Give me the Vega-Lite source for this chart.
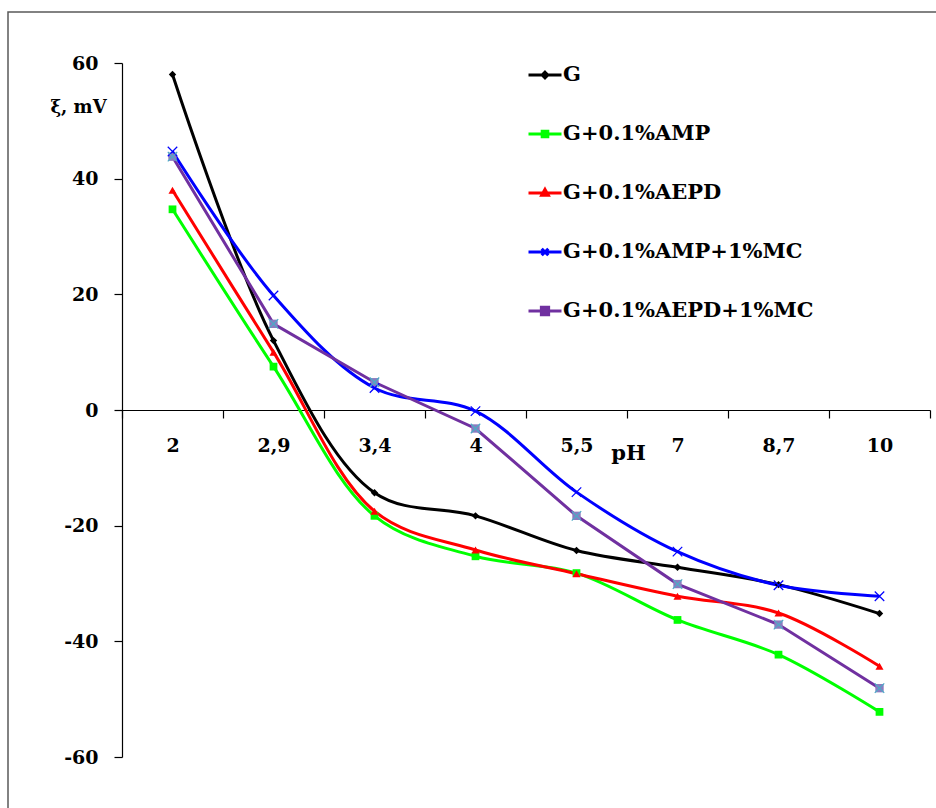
{
  "$schema": "https://vega.github.io/schema/vega-lite/v6.json",
  "autosize": {"type": "none"},
  "padding": {"left": 8, "top": 12, "right": 0, "bottom": 0},
  "width": 930,
  "height": 800,
  "background": "white",
  "config": {
    "view": {"stroke": "#595959", "strokeWidth": 1.5},
    "font": "DejaVu Serif",
    "axis": {
      "labelFont": "DejaVu Serif", "labelFontWeight": "bold", "labelFontSize": 19, "labelColor": "#000",
      "titleFont": "DejaVu Serif", "titleFontWeight": "bold", "titleColor": "#000",
      "domainColor": "#000", "tickColor": "#000", "domainWidth": 1.2, "tickWidth": 1.2, "tickSize": 8, "grid": false
    }
  },
  "data": {"values": [
    {"series": "G", "pH": "2", "v": 58.0},
    {"series": "G", "pH": "2,9", "v": 12.0},
    {"series": "G", "pH": "3,4", "v": -14.3},
    {"series": "G", "pH": "4", "v": -18.3},
    {"series": "G", "pH": "5,5", "v": -24.3},
    {"series": "G", "pH": "7", "v": -27.2},
    {"series": "G", "pH": "8,7", "v": -30.2},
    {"series": "G", "pH": "10", "v": -35.2},
    {"series": "G+0.1%AMP", "pH": "2", "v": 34.7},
    {"series": "G+0.1%AMP", "pH": "2,9", "v": 7.5},
    {"series": "G+0.1%AMP", "pH": "3,4", "v": -18.3},
    {"series": "G+0.1%AMP", "pH": "4", "v": -25.3},
    {"series": "G+0.1%AMP", "pH": "5,5", "v": -28.2},
    {"series": "G+0.1%AMP", "pH": "7", "v": -36.3},
    {"series": "G+0.1%AMP", "pH": "8,7", "v": -42.3},
    {"series": "G+0.1%AMP", "pH": "10", "v": -52.2},
    {"series": "G+0.1%AEPD", "pH": "2", "v": 38.0},
    {"series": "G+0.1%AEPD", "pH": "2,9", "v": 10.0},
    {"series": "G+0.1%AEPD", "pH": "3,4", "v": -17.5},
    {"series": "G+0.1%AEPD", "pH": "4", "v": -24.2},
    {"series": "G+0.1%AEPD", "pH": "5,5", "v": -28.3},
    {"series": "G+0.1%AEPD", "pH": "7", "v": -32.2},
    {"series": "G+0.1%AEPD", "pH": "8,7", "v": -35.1},
    {"series": "G+0.1%AEPD", "pH": "10", "v": -44.3},
    {"series": "G+0.1%AMP+1%MC", "pH": "2", "v": 44.7},
    {"series": "G+0.1%AMP+1%MC", "pH": "2,9", "v": 19.8},
    {"series": "G+0.1%AMP+1%MC", "pH": "3,4", "v": 3.8},
    {"series": "G+0.1%AMP+1%MC", "pH": "4", "v": -0.2},
    {"series": "G+0.1%AMP+1%MC", "pH": "5,5", "v": -14.2},
    {"series": "G+0.1%AMP+1%MC", "pH": "7", "v": -24.5},
    {"series": "G+0.1%AMP+1%MC", "pH": "8,7", "v": -30.3},
    {"series": "G+0.1%AMP+1%MC", "pH": "10", "v": -32.2},
    {"series": "G+0.1%AEPD+1%MC", "pH": "2", "v": 43.8},
    {"series": "G+0.1%AEPD+1%MC", "pH": "2,9", "v": 14.9},
    {"series": "G+0.1%AEPD+1%MC", "pH": "3,4", "v": 4.8},
    {"series": "G+0.1%AEPD+1%MC", "pH": "4", "v": -3.2},
    {"series": "G+0.1%AEPD+1%MC", "pH": "5,5", "v": -18.3},
    {"series": "G+0.1%AEPD+1%MC", "pH": "7", "v": -30.1},
    {"series": "G+0.1%AEPD+1%MC", "pH": "8,7", "v": -37.1},
    {"series": "G+0.1%AEPD+1%MC", "pH": "10", "v": -48.1}
  ]},
  "encoding": {
    "x": {
      "field": "pH", "type": "ordinal", "bandPosition": 0.5,
      "scale": {"type": "band", "domain": ["2", "2,9", "3,4", "4", "5,5", "7", "8,7", "10"], "range": [114, 922], "paddingInner": 0, "paddingOuter": 0},
      "axis": {"orient": "bottom", "offset": -402, "tickBand": "extent", "labelPadding": 18, "labelAngle": 0,
        "title": "pH", "titleX": 620, "titleY": 43, "titleAlign": "center", "titleBaseline": "middle", "titleFontSize": 21}
    },
    "y": {
      "field": "v", "type": "quantitative",
      "scale": {"domain": [-60, 60], "range": [745, 51], "nice": false, "zero": false},
      "axis": {"orient": "left", "offset": -114, "values": [-60, -40, -20, 0, 20, 40, 60], "labelPadding": 16,
        "labelExpr": "toString(datum.value)",
        "title": "ξ, mV", "titleAngle": 0, "titleX": -44, "titleY": 95, "titleAlign": "center", "titleBaseline": "middle", "titleFontSize": 18}
    }
  },
  "layer": [
    {
      "transform": [{"filter": "datum.series !== 'G+0.1%AEPD+1%MC'"}],
      "mark": {"type": "line", "interpolate": "catmull-rom", "strokeWidth": 3},
      "encoding": {
        "color": {
          "field": "series", "type": "nominal",
          "scale": {"domain": ["G", "G+0.1%AMP", "G+0.1%AEPD", "G+0.1%AMP+1%MC", "G+0.1%AEPD+1%MC"], "range": ["#000000", "#00FF00", "#FF0000", "#0000FF", "#7030A0"]},
          "legend": {
            "orient": "none", "legendX": 519, "legendY": 45, "title": null, "padding": 0,
            "rowPadding": 31, "symbolSize": 1089, "symbolStrokeWidth": 3, "symbolType": "stroke",
            "labelFont": "DejaVu Serif", "labelFontSize": 21, "labelFontWeight": "bold", "labelColor": "#000", "labelOffset": 0, "labelLimit": 400,
            "encode": {"symbols": {"update": {
              "shape": {"signal": "datum.value === 'G' ? 'M-1,0H1M0,-0.17L0.17,0L0,0.17L-0.17,0Z' : datum.value === 'G+0.1%AMP' ? 'M-1,0H1M-0.17,-0.17H0.17V0.17H-0.17Z' : datum.value === 'G+0.1%AEPD' ? 'M-1,0H1M0,-0.22L0.2,0.13H-0.2Z' : datum.value === 'G+0.1%AMP+1%MC' ? 'M-1,0H1M-0.2,-0.2L0.2,0.2M-0.2,0.2L0.2,-0.2' : 'M-1,0H1M-0.22,-0.22H0.22V0.22H-0.22Z'"},
              "fill": {"signal": "scale('color', datum.value)"}
            }}}
          }
        }
      }
    },
    {
      "transform": [{"filter": "datum.series === 'G+0.1%AEPD+1%MC'"}],
      "mark": {"type": "line", "interpolate": "linear", "strokeWidth": 3},
      "encoding": {
        "color": {"field": "series", "type": "nominal", "legend": null}
      }
    },
    {
      "transform": [{"filter": "datum.series !== 'G+0.1%AMP+1%MC'"}],
      "mark": {"type": "point", "filled": true, "opacity": 1},
      "encoding": {
        "shape": {"field": "series", "type": "nominal", "legend": null,
          "scale": {"domain": ["G", "G+0.1%AMP", "G+0.1%AEPD", "G+0.1%AEPD+1%MC"], "range": ["diamond", "square", "triangle-up", "square"]}},
        "size": {"field": "series", "type": "nominal", "legend": null,
          "scale": {"domain": ["G", "G+0.1%AMP", "G+0.1%AEPD", "G+0.1%AEPD+1%MC"], "range": [55, 70, 90, 120]}},
        "fill": {"field": "series", "type": "nominal", "legend": null,
          "scale": {"domain": ["G", "G+0.1%AMP", "G+0.1%AEPD", "G+0.1%AEPD+1%MC"], "range": ["#000000", "#00FF00", "#FF0000", "#8B7CC0"]}}
      }
    },
    {
      "transform": [{"filter": "datum.series === 'G+0.1%AMP+1%MC' || datum.series === 'G+0.1%AEPD+1%MC'"}],
      "mark": {"type": "point", "filled": false, "shape": "M-1,-1L1,1M-1,1L1,-1", "strokeWidth": 1.2, "opacity": 1},
      "encoding": {
        "size": {"value": 90},
        "stroke": {"field": "series", "type": "nominal", "legend": null,
          "scale": {"domain": ["G+0.1%AMP+1%MC", "G+0.1%AEPD+1%MC"], "range": ["#0000FF", "#4BACC6"]}}
      }
    }
  ],
  "resolve": {"scale": {"size": "independent"}}
}
